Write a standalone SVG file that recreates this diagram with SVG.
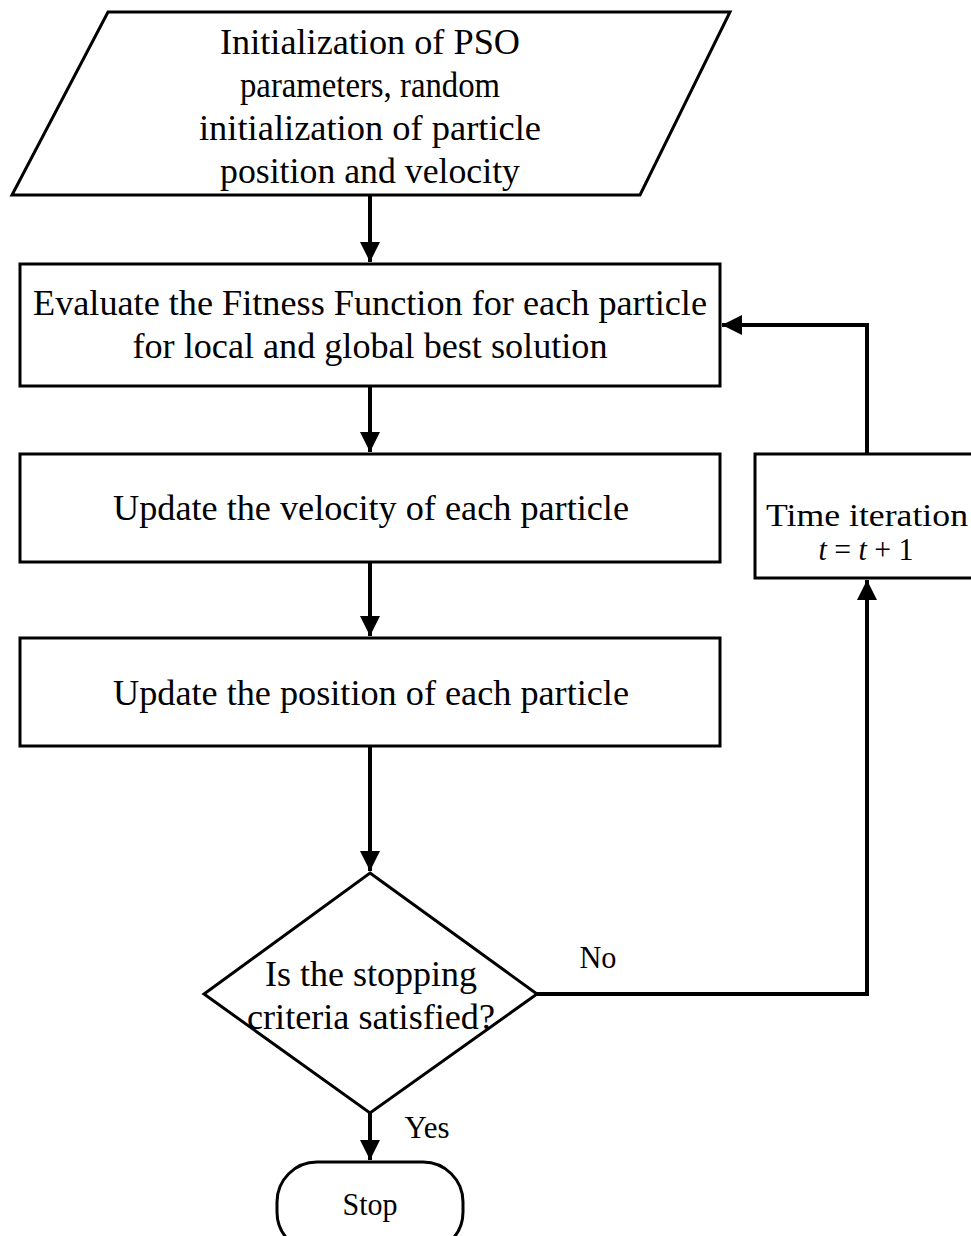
<svg xmlns="http://www.w3.org/2000/svg" width="971" height="1236" viewBox="0 0 971 1236">
<defs>
<style>
.s{fill:#fff;stroke:#000;stroke-width:3}
.t{font-family:"Liberation Serif","Times New Roman",serif;font-size:35px;fill:#000;text-anchor:middle}
.m{font-size:31px}
.c{fill:none;stroke:#000;stroke-width:4}
</style>
<marker id="ah" viewBox="0 0 10 10" refX="10" refY="5" markerWidth="5" markerHeight="5" orient="auto" markerUnits="strokeWidth">
<path d="M0,0 L10,5 L0,10 Z" fill="#000"/>
</marker>
</defs>
<rect width="971" height="1236" fill="#fff"/>
<g id="init">
<polygon class="s" points="108,12 730,12 640,195 12,195"/>
<text class="t" x="370" y="54" textLength="300" lengthAdjust="spacingAndGlyphs">Initialization of PSO</text>
<text class="t" x="370" y="97" textLength="260" lengthAdjust="spacingAndGlyphs">parameters, random</text>
<text class="t" x="370" y="140" textLength="342" lengthAdjust="spacingAndGlyphs">initialization of particle</text>
<text class="t" x="370" y="183" textLength="300" lengthAdjust="spacingAndGlyphs">position and velocity</text>
</g>
<g id="evaluate">
<rect class="s" x="20" y="264" width="700" height="122"/>
<text class="t" x="370" y="315" textLength="674" lengthAdjust="spacingAndGlyphs">Evaluate the Fitness Function for each particle</text>
<text class="t" x="370" y="358" textLength="475" lengthAdjust="spacingAndGlyphs">for local and global best solution</text>
</g>
<g id="velocity">
<rect class="s" x="20" y="454" width="700" height="108"/>
<text class="t" x="371" y="520" textLength="516" lengthAdjust="spacingAndGlyphs">Update the velocity of each particle</text>
</g>
<g id="position">
<rect class="s" x="20" y="638" width="700" height="108"/>
<text class="t" x="371" y="705" textLength="516" lengthAdjust="spacingAndGlyphs">Update the position of each particle</text>
</g>
<g id="time">
<rect class="s" x="755" y="454" width="220" height="124"/>
<text class="t m" x="867" y="526" textLength="202" lengthAdjust="spacingAndGlyphs">Time iteration</text>
<text class="t m" x="866" y="560" textLength="95" lengthAdjust="spacingAndGlyphs"><tspan font-style="italic">t</tspan> = <tspan font-style="italic">t</tspan> + 1</text>
</g>
<g id="decision">
<polygon class="s" points="370,873 537,994 370,1113 204,994"/>
<text class="t" x="371" y="986" textLength="212" lengthAdjust="spacingAndGlyphs">Is the stopping</text>
<text class="t" x="371" y="1029" textLength="248" lengthAdjust="spacingAndGlyphs">criteria satisfied?</text>
</g>
<g id="stop">
<rect class="s" x="277" y="1162" width="186" height="90" rx="40" ry="40"/>
<text class="t m" x="370" y="1215" textLength="55" lengthAdjust="spacingAndGlyphs">Stop</text>
</g>
<g id="connectors">
<line class="c" x1="370" y1="195" x2="370" y2="262" marker-end="url(#ah)"/>
<line class="c" x1="370" y1="386" x2="370" y2="452" marker-end="url(#ah)"/>
<line class="c" x1="370" y1="562" x2="370" y2="636" marker-end="url(#ah)"/>
<line class="c" x1="370" y1="746" x2="370" y2="871" marker-end="url(#ah)"/>
<line class="c" x1="370" y1="1113" x2="370" y2="1160" marker-end="url(#ah)"/>
<polyline class="c" points="537,994 867,994 867,580" marker-end="url(#ah)"/>
<polyline class="c" points="867,454 867,325 722,325" marker-end="url(#ah)"/>
<text class="t m" x="598" y="968" textLength="37" lengthAdjust="spacingAndGlyphs">No</text>
<text class="t m" x="427" y="1138" textLength="45" lengthAdjust="spacingAndGlyphs">Yes</text>
</g>
</svg>
